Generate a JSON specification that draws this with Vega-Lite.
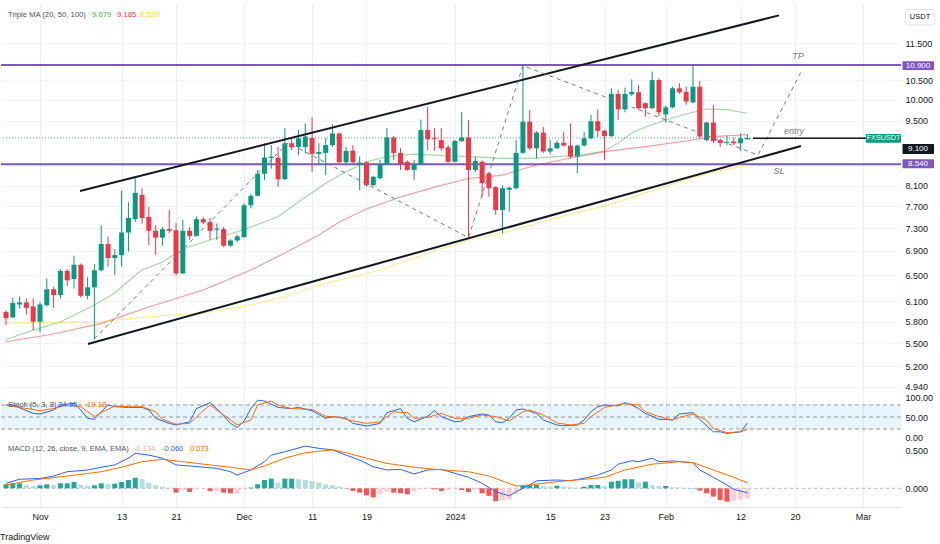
{
"$schema":"https://vega.github.io/schema/vega-lite/v6.json",
"padding":{"left":0,"top":3,"right":0,"bottom":0},
"bounds":"flush",
"spacing":2,
"background":"white",
"resolve":{"scale":{"color":"independent"}},
"title":{"text":"TradingView","orient":"bottom","anchor":"start","fontSize":9,"fontWeight":"normal","font":"Liberation Sans","color":"#131722","offset":12},
"config":{"view":{"stroke":null},"axis":{"labelFont":"Liberation Sans","labelFontSize":9,"labelColor":"#131722"},"text":{"font":"Liberation Sans"}},
"datasets":{
"candles":[
{"date":"2023-10-27","open":5.94,"high":5.96,"low":5.75,"close":5.85,"hist":0.053},
{"date":"2023-10-28","open":5.86,"high":6.15,"low":5.85,"close":6.07,"hist":0.066},
{"date":"2023-10-29","open":6.05,"high":6.17,"low":5.99,"close":6.08,"hist":0.066},
{"date":"2023-10-30","open":6.08,"high":6.14,"low":5.90,"close":6.00,"hist":0.04},
{"date":"2023-10-31","open":6.02,"high":6.14,"low":5.68,"close":5.80,"hist":0.03},
{"date":"2023-11-01","open":5.80,"high":6.09,"low":5.65,"close":6.05,"hist":0.04},
{"date":"2023-11-02","open":6.04,"high":6.45,"low":6.02,"close":6.28,"hist":0.053},
{"date":"2023-11-03","open":6.28,"high":6.32,"low":6.00,"close":6.19,"hist":0.044},
{"date":"2023-11-04","open":6.19,"high":6.60,"low":6.14,"close":6.57,"hist":0.066},
{"date":"2023-11-05","open":6.57,"high":6.60,"low":6.33,"close":6.42,"hist":0.066},
{"date":"2023-11-06","open":6.44,"high":6.82,"low":6.29,"close":6.67,"hist":0.084},
{"date":"2023-11-07","open":6.67,"high":6.69,"low":6.15,"close":6.18,"hist":0.044},
{"date":"2023-11-08","open":6.18,"high":6.47,"low":6.13,"close":6.31,"hist":0.031},
{"date":"2023-11-09","open":6.31,"high":6.68,"low":5.55,"close":6.58,"hist":0.04},
{"date":"2023-11-10","open":6.58,"high":7.35,"low":6.56,"close":7.02,"hist":0.066},
{"date":"2023-11-11","open":7.02,"high":7.15,"low":6.64,"close":6.78,"hist":0.062},
{"date":"2023-11-12","open":6.78,"high":6.93,"low":6.50,"close":6.83,"hist":0.062},
{"date":"2023-11-13","open":6.83,"high":8.00,"low":6.64,"close":7.22,"hist":0.084},
{"date":"2023-11-14","open":7.22,"high":7.78,"low":6.89,"close":7.48,"hist":0.11},
{"date":"2023-11-15","open":7.46,"high":8.25,"low":7.41,"close":7.96,"hist":0.14},
{"date":"2023-11-16","open":7.92,"high":8.05,"low":7.38,"close":7.48,"hist":0.12},
{"date":"2023-11-17","open":7.50,"high":7.69,"low":7.00,"close":7.25,"hist":0.075},
{"date":"2023-11-18","open":7.25,"high":7.35,"low":6.83,"close":7.13,"hist":0.04},
{"date":"2023-11-19","open":7.13,"high":7.32,"low":6.99,"close":7.28,"hist":0.022},
{"date":"2023-11-20","open":7.28,"high":7.63,"low":7.21,"close":7.25,"hist":0.009},
{"date":"2023-11-21","open":7.26,"high":7.39,"low":6.49,"close":6.53,"hist":-0.057},
{"date":"2023-11-22","open":6.53,"high":7.45,"low":6.52,"close":7.25,"hist":-0.022},
{"date":"2023-11-23","open":7.25,"high":7.32,"low":7.09,"close":7.16,"hist":-0.048},
{"date":"2023-11-24","open":7.16,"high":7.51,"low":7.15,"close":7.46,"hist":-0.013},
{"date":"2023-11-25","open":7.46,"high":7.50,"low":7.37,"close":7.40,"hist":-0.004},
{"date":"2023-11-26","open":7.41,"high":7.48,"low":7.09,"close":7.25,"hist":-0.035},
{"date":"2023-11-27","open":7.27,"high":7.38,"low":7.09,"close":7.29,"hist":-0.035},
{"date":"2023-11-28","open":7.28,"high":7.32,"low":6.97,"close":6.99,"hist":-0.057},
{"date":"2023-11-29","open":6.99,"high":7.10,"low":6.97,"close":7.08,"hist":-0.066},
{"date":"2023-11-30","open":7.08,"high":7.18,"low":7.05,"close":7.15,"hist":-0.066},
{"date":"2023-12-01","open":7.14,"high":7.76,"low":7.13,"close":7.72,"hist":-0.013},
{"date":"2023-12-02","open":7.72,"high":7.94,"low":7.66,"close":7.90,"hist":0.01},
{"date":"2023-12-03","open":7.90,"high":8.42,"low":7.89,"close":8.34,"hist":0.053},
{"date":"2023-12-04","open":8.34,"high":8.99,"low":8.21,"close":8.68,"hist":0.11},
{"date":"2023-12-05","open":8.67,"high":8.95,"low":8.45,"close":8.70,"hist":0.128},
{"date":"2023-12-06","open":8.68,"high":8.91,"low":8.08,"close":8.23,"hist":0.075},
{"date":"2023-12-07","open":8.23,"high":9.33,"low":8.22,"close":8.99,"hist":0.128},
{"date":"2023-12-08","open":8.99,"high":9.10,"low":8.84,"close":8.90,"hist":0.128},
{"date":"2023-12-09","open":8.91,"high":9.29,"low":8.73,"close":9.10,"hist":0.12},
{"date":"2023-12-10","open":8.91,"high":9.44,"low":8.77,"close":9.14,"hist":0.11},
{"date":"2023-12-11","open":9.11,"high":9.58,"low":8.38,"close":8.76,"hist":0.097},
{"date":"2023-12-12","open":8.76,"high":8.99,"low":8.52,"close":8.80,"hist":0.075},
{"date":"2023-12-13","open":8.78,"high":9.10,"low":8.31,"close":8.95,"hist":0.053},
{"date":"2023-12-14","open":8.95,"high":9.42,"low":8.91,"close":9.21,"hist":0.04},
{"date":"2023-12-15","open":9.21,"high":9.23,"low":8.56,"close":8.58,"hist":0.022},
{"date":"2023-12-16","open":8.58,"high":8.91,"low":8.52,"close":8.82,"hist":-0.004},
{"date":"2023-12-17","open":8.83,"high":8.95,"low":8.56,"close":8.58,"hist":-0.035},
{"date":"2023-12-18","open":8.53,"high":8.70,"low":8.01,"close":8.57,"hist":-0.057},
{"date":"2023-12-19","open":8.58,"high":8.60,"low":8.08,"close":8.11,"hist":-0.093},
{"date":"2023-12-20","open":8.11,"high":8.30,"low":8.09,"close":8.28,"hist":-0.12},
{"date":"2023-12-21","open":8.25,"high":8.63,"low":8.23,"close":8.54,"hist":-0.08},
{"date":"2023-12-22","open":8.54,"high":9.33,"low":8.52,"close":9.12,"hist":-0.035},
{"date":"2023-12-23","open":9.12,"high":9.15,"low":8.63,"close":8.78,"hist":-0.057},
{"date":"2023-12-24","open":8.78,"high":8.88,"low":8.42,"close":8.54,"hist":-0.066},
{"date":"2023-12-25","open":8.59,"high":8.62,"low":8.40,"close":8.42,"hist":-0.08},
{"date":"2023-12-26","open":8.42,"high":8.63,"low":8.21,"close":8.54,"hist":-0.035},
{"date":"2023-12-27","open":8.54,"high":9.53,"low":8.52,"close":9.29,"hist":-0.013},
{"date":"2023-12-28","open":9.29,"high":9.83,"low":8.84,"close":9.08,"hist":-0.004},
{"date":"2023-12-29","open":9.10,"high":9.33,"low":8.83,"close":9.08,"hist":-0.013},
{"date":"2023-12-30","open":9.06,"high":9.33,"low":8.83,"close":8.88,"hist":-0.035},
{"date":"2023-12-31","open":8.90,"high":8.95,"low":8.57,"close":8.59,"hist":-0.022},
{"date":"2024-01-01","open":8.59,"high":9.06,"low":8.58,"close":9.04,"hist":-0.004},
{"date":"2024-01-02","open":9.04,"high":9.71,"low":9.02,"close":9.12,"hist":-0.022},
{"date":"2024-01-03","open":9.12,"high":9.52,"low":7.12,"close":8.42,"hist":-0.048},
{"date":"2024-01-04","open":8.42,"high":8.70,"low":8.38,"close":8.61,"hist":-0.022},
{"date":"2024-01-05","open":8.59,"high":8.62,"low":7.88,"close":8.15,"hist":-0.066},
{"date":"2024-01-06","open":8.35,"high":8.38,"low":7.88,"close":8.05,"hist":-0.10},
{"date":"2024-01-07","open":8.07,"high":8.09,"low":7.54,"close":7.63,"hist":-0.17},
{"date":"2024-01-08","open":7.63,"high":8.11,"low":7.20,"close":8.05,"hist":-0.155},
{"date":"2024-01-09","open":8.02,"high":8.08,"low":7.60,"close":8.06,"hist":-0.146},
{"date":"2024-01-10","open":8.05,"high":9.06,"low":8.03,"close":8.78,"hist":-0.075},
{"date":"2024-01-11","open":8.78,"high":10.90,"low":8.76,"close":9.48,"hist":0.031},
{"date":"2024-01-12","open":9.48,"high":9.76,"low":8.84,"close":8.88,"hist":0.044},
{"date":"2024-01-13","open":8.88,"high":9.26,"low":8.66,"close":9.23,"hist":0.044},
{"date":"2024-01-14","open":9.23,"high":9.36,"low":8.78,"close":8.81,"hist":0.031},
{"date":"2024-01-15","open":8.81,"high":9.06,"low":8.75,"close":8.88,"hist":0.022},
{"date":"2024-01-16","open":8.88,"high":9.05,"low":8.86,"close":9.00,"hist":0.035},
{"date":"2024-01-17","open":9.00,"high":9.25,"low":8.92,"close":8.94,"hist":0.022},
{"date":"2024-01-18","open":8.94,"high":9.44,"low":8.66,"close":8.70,"hist":0.013},
{"date":"2024-01-19","open":8.70,"high":8.96,"low":8.35,"close":8.94,"hist":0.009},
{"date":"2024-01-20","open":8.94,"high":9.25,"low":8.92,"close":9.10,"hist":0.022},
{"date":"2024-01-21","open":9.10,"high":9.64,"low":9.08,"close":9.49,"hist":0.044},
{"date":"2024-01-22","open":9.49,"high":9.77,"low":9.13,"close":9.27,"hist":0.044},
{"date":"2024-01-23","open":9.27,"high":9.30,"low":8.63,"close":9.15,"hist":0.031},
{"date":"2024-01-24","open":9.15,"high":10.29,"low":9.13,"close":10.15,"hist":0.088},
{"date":"2024-01-25","open":10.15,"high":10.25,"low":9.52,"close":9.77,"hist":0.10},
{"date":"2024-01-26","open":9.77,"high":10.31,"low":9.70,"close":10.15,"hist":0.12},
{"date":"2024-01-27","open":10.14,"high":10.52,"low":10.10,"close":10.20,"hist":0.12},
{"date":"2024-01-28","open":10.19,"high":10.37,"low":9.76,"close":9.80,"hist":0.075},
{"date":"2024-01-29","open":9.92,"high":9.94,"low":9.60,"close":9.80,"hist":0.088},
{"date":"2024-01-30","open":9.80,"high":10.72,"low":9.78,"close":10.50,"hist":0.04},
{"date":"2024-01-31","open":10.50,"high":10.55,"low":9.62,"close":9.70,"hist":0.03},
{"date":"2024-02-01","open":9.65,"high":9.86,"low":9.46,"close":9.82,"hist":0.031},
{"date":"2024-02-02","open":9.82,"high":10.33,"low":9.80,"close":10.29,"hist":0.013},
{"date":"2024-02-03","open":10.29,"high":10.42,"low":10.15,"close":10.19,"hist":0.009},
{"date":"2024-02-04","open":10.20,"high":10.33,"low":9.88,"close":9.96,"hist":0.004},
{"date":"2024-02-05","open":9.94,"high":10.88,"low":9.92,"close":10.33,"hist":0.004},
{"date":"2024-02-06","open":10.33,"high":10.48,"low":9.10,"close":9.14,"hist":-0.03},
{"date":"2024-02-07","open":9.06,"high":9.48,"low":9.03,"close":9.46,"hist":-0.066},
{"date":"2024-02-08","open":9.46,"high":9.88,"low":9.00,"close":9.04,"hist":-0.11},
{"date":"2024-02-09","open":9.06,"high":9.09,"low":8.91,"close":9.00,"hist":-0.155},
{"date":"2024-02-10","open":9.00,"high":9.16,"low":8.95,"close":9.02,"hist":-0.177},
{"date":"2024-02-11","open":9.03,"high":9.12,"low":8.95,"close":8.99,"hist":-0.165},
{"date":"2024-02-12","open":8.99,"high":9.21,"low":8.83,"close":9.10,"hist":-0.15},
{"date":"2024-02-13","open":9.08,"high":9.19,"low":9.07,"close":9.11,"hist":-0.134}
],
"ma":[
{"date":"2023-10-27","s":"MA20","v":5.55},{"date":"2023-10-31","s":"MA20","v":5.68},{"date":"2023-11-04","s":"MA20","v":5.794},{"date":"2023-11-09","s":"MA20","v":6.041},{"date":"2023-11-12","s":"MA20","v":6.222},{"date":"2023-11-14","s":"MA20","v":6.408},{"date":"2023-11-16","s":"MA20","v":6.584},{"date":"2023-11-19","s":"MA20","v":6.715},{"date":"2023-11-22","s":"MA20","v":6.933},{"date":"2023-11-26","s":"MA20","v":7.088},{"date":"2023-11-30","s":"MA20","v":7.234},{"date":"2023-12-02","s":"MA20","v":7.318},{"date":"2023-12-06","s":"MA20","v":7.506},{"date":"2023-12-09","s":"MA20","v":7.782},{"date":"2023-12-13","s":"MA20","v":8.147},{"date":"2023-12-16","s":"MA20","v":8.383},{"date":"2023-12-19","s":"MA20","v":8.591},{"date":"2023-12-22","s":"MA20","v":8.701},{"date":"2023-12-26","s":"MA20","v":8.755},{"date":"2024-01-01","s":"MA20","v":8.712},{"date":"2024-01-05","s":"MA20","v":8.691},{"date":"2024-01-08","s":"MA20","v":8.663},{"date":"2024-01-12","s":"MA20","v":8.663},{"date":"2024-01-16","s":"MA20","v":8.701},{"date":"2024-01-20","s":"MA20","v":8.744},{"date":"2024-01-23","s":"MA20","v":8.82},{"date":"2024-01-25","s":"MA20","v":8.996},{"date":"2024-01-27","s":"MA20","v":9.219},{"date":"2024-01-29","s":"MA20","v":9.356},{"date":"2024-02-01","s":"MA20","v":9.518},{"date":"2024-02-04","s":"MA20","v":9.66},{"date":"2024-02-07","s":"MA20","v":9.779},{"date":"2024-02-10","s":"MA20","v":9.767},{"date":"2024-02-13","s":"MA20","v":9.679},
{"date":"2023-10-27","s":"MA50","v":5.52},{"date":"2023-11-03","s":"MA50","v":5.626},{"date":"2023-11-10","s":"MA50","v":5.776},{"date":"2023-11-17","s":"MA50","v":6.012},{"date":"2023-11-25","s":"MA50","v":6.268},{"date":"2023-12-02","s":"MA50","v":6.584},{"date":"2023-12-07","s":"MA50","v":6.865},{"date":"2023-12-12","s":"MA50","v":7.175},{"date":"2023-12-15","s":"MA50","v":7.408},{"date":"2023-12-19","s":"MA50","v":7.649},{"date":"2023-12-24","s":"MA50","v":7.878},{"date":"2023-12-29","s":"MA50","v":8.073},{"date":"2024-01-03","s":"MA50","v":8.244},{"date":"2024-01-08","s":"MA50","v":8.315},{"date":"2024-01-13","s":"MA50","v":8.522},{"date":"2024-01-18","s":"MA50","v":8.67},{"date":"2024-01-23","s":"MA50","v":8.809},{"date":"2024-01-29","s":"MA50","v":8.918},{"date":"2024-02-04","s":"MA50","v":9.04},{"date":"2024-02-08","s":"MA50","v":9.14},{"date":"2024-02-13","s":"MA50","v":9.185},
{"date":"2023-10-27","s":"MA100","v":5.78},{"date":"2023-11-10","s":"MA100","v":5.799},{"date":"2023-11-17","s":"MA100","v":5.87},{"date":"2023-11-25","s":"MA100","v":5.924},{"date":"2023-12-02","s":"MA100","v":6.041},{"date":"2023-12-07","s":"MA100","v":6.166},{"date":"2023-12-12","s":"MA100","v":6.346},{"date":"2023-12-21","s":"MA100","v":6.584},{"date":"2023-12-29","s":"MA100","v":6.899},{"date":"2024-01-03","s":"MA100","v":7.088},{"date":"2024-01-08","s":"MA100","v":7.211},{"date":"2024-01-17","s":"MA100","v":7.519},{"date":"2024-01-23","s":"MA100","v":7.705},{"date":"2024-01-29","s":"MA100","v":7.955},{"date":"2024-02-03","s":"MA100","v":8.174},{"date":"2024-02-08","s":"MA100","v":8.377},{"date":"2024-02-13","s":"MA100","v":8.52}
],
"stoch":[
{"date":"2023-10-27","s":"K","v":80},{"date":"2023-10-28","s":"K","v":80},{"date":"2023-10-31","s":"K","v":59},{"date":"2023-11-01","s":"K","v":57.5},{"date":"2023-11-03","s":"K","v":67.5},{"date":"2023-11-04","s":"K","v":80},{"date":"2023-11-06","s":"K","v":84},{"date":"2023-11-07","s":"K","v":67.5},{"date":"2023-11-08","s":"K","v":46.7},{"date":"2023-11-09","s":"K","v":44},{"date":"2023-11-10","s":"K","v":63},{"date":"2023-11-11","s":"K","v":80},{"date":"2023-11-12","s":"K","v":75.8},{"date":"2023-11-14","s":"K","v":74},{"date":"2023-11-16","s":"K","v":74},{"date":"2023-11-17","s":"K","v":67.5},{"date":"2023-11-18","s":"K","v":46.7},{"date":"2023-11-20","s":"K","v":34},{"date":"2023-11-21","s":"K","v":30},{"date":"2023-11-23","s":"K","v":38},{"date":"2023-11-24","s":"K","v":71},{"date":"2023-11-26","s":"K","v":85.8},{"date":"2023-11-27","s":"K","v":71},{"date":"2023-11-29","s":"K","v":34},{"date":"2023-11-30","s":"K","v":24},{"date":"2023-12-01","s":"K","v":40},{"date":"2023-12-02","s":"K","v":71},{"date":"2023-12-03","s":"K","v":92},{"date":"2023-12-04","s":"K","v":90},{"date":"2023-12-06","s":"K","v":74},{"date":"2023-12-08","s":"K","v":71},{"date":"2023-12-09","s":"K","v":74},{"date":"2023-12-11","s":"K","v":65.8},{"date":"2023-12-13","s":"K","v":46.7},{"date":"2023-12-14","s":"K","v":51},{"date":"2023-12-16","s":"K","v":46.7},{"date":"2023-12-17","s":"K","v":34},{"date":"2023-12-19","s":"K","v":27.5},{"date":"2023-12-21","s":"K","v":34},{"date":"2023-12-22","s":"K","v":60.8},{"date":"2023-12-24","s":"K","v":71},{"date":"2023-12-25","s":"K","v":46.7},{"date":"2023-12-26","s":"K","v":38},{"date":"2023-12-28","s":"K","v":52},{"date":"2023-12-29","s":"K","v":65.8},{"date":"2023-12-30","s":"K","v":51},{"date":"2024-01-01","s":"K","v":38},{"date":"2024-01-02","s":"K","v":40},{"date":"2024-01-03","s":"K","v":51},{"date":"2024-01-05","s":"K","v":57.5},{"date":"2024-01-06","s":"K","v":55},{"date":"2024-01-07","s":"K","v":38},{"date":"2024-01-08","s":"K","v":36},{"date":"2024-01-09","s":"K","v":46.7},{"date":"2024-01-10","s":"K","v":67.5},{"date":"2024-01-11","s":"K","v":70},{"date":"2024-01-13","s":"K","v":59},{"date":"2024-01-14","s":"K","v":42.5},{"date":"2024-01-16","s":"K","v":30},{"date":"2024-01-17","s":"K","v":28},{"date":"2024-01-19","s":"K","v":30},{"date":"2024-01-20","s":"K","v":42.5},{"date":"2024-01-21","s":"K","v":63},{"date":"2024-01-22","s":"K","v":75.8},{"date":"2024-01-23","s":"K","v":80},{"date":"2024-01-25","s":"K","v":78},{"date":"2024-01-26","s":"K","v":85.8},{"date":"2024-01-27","s":"K","v":80},{"date":"2024-01-28","s":"K","v":71},{"date":"2024-01-29","s":"K","v":59},{"date":"2024-01-31","s":"K","v":44},{"date":"2024-02-01","s":"K","v":44},{"date":"2024-02-02","s":"K","v":42.5},{"date":"2024-02-03","s":"K","v":57.5},{"date":"2024-02-05","s":"K","v":61},{"date":"2024-02-06","s":"K","v":44},{"date":"2024-02-08","s":"K","v":13},{"date":"2024-02-09","s":"K","v":13},{"date":"2024-02-10","s":"K","v":9},{"date":"2024-02-12","s":"K","v":13},{"date":"2024-02-13","s":"K","v":34.95},
{"date":"2023-10-27","s":"D","v":80},{"date":"2023-10-29","s":"D","v":74},{"date":"2023-11-01","s":"D","v":66},{"date":"2023-11-03","s":"D","v":71},{"date":"2023-11-05","s":"D","v":80},{"date":"2023-11-07","s":"D","v":75.8},{"date":"2023-11-09","s":"D","v":51},{"date":"2023-11-10","s":"D","v":61},{"date":"2023-11-12","s":"D","v":77.5},{"date":"2023-11-14","s":"D","v":75.8},{"date":"2023-11-16","s":"D","v":75.8},{"date":"2023-11-18","s":"D","v":63},{"date":"2023-11-19","s":"D","v":44},{"date":"2023-11-21","s":"D","v":32},{"date":"2023-11-23","s":"D","v":34},{"date":"2023-11-25","s":"D","v":65.8},{"date":"2023-11-26","s":"D","v":80},{"date":"2023-11-28","s":"D","v":55},{"date":"2023-11-30","s":"D","v":30},{"date":"2023-12-02","s":"D","v":42.5},{"date":"2023-12-03","s":"D","v":80},{"date":"2023-12-05","s":"D","v":90},{"date":"2023-12-06","s":"D","v":80},{"date":"2023-12-08","s":"D","v":71},{"date":"2023-12-11","s":"D","v":69},{"date":"2023-12-13","s":"D","v":52},{"date":"2023-12-15","s":"D","v":49},{"date":"2023-12-17","s":"D","v":40},{"date":"2023-12-19","s":"D","v":34},{"date":"2023-12-21","s":"D","v":38},{"date":"2023-12-23","s":"D","v":63},{"date":"2023-12-25","s":"D","v":61},{"date":"2023-12-26","s":"D","v":46.7},{"date":"2023-12-28","s":"D","v":49},{"date":"2023-12-30","s":"D","v":59},{"date":"2024-01-01","s":"D","v":46.7},{"date":"2024-01-03","s":"D","v":46.7},{"date":"2024-01-05","s":"D","v":55},{"date":"2024-01-07","s":"D","v":51},{"date":"2024-01-09","s":"D","v":40},{"date":"2024-01-11","s":"D","v":63},{"date":"2024-01-12","s":"D","v":67.5},{"date":"2024-01-14","s":"D","v":55},{"date":"2024-01-16","s":"D","v":35},{"date":"2024-01-18","s":"D","v":30},{"date":"2024-01-20","s":"D","v":34},{"date":"2024-01-21","s":"D","v":51},{"date":"2024-01-23","s":"D","v":74},{"date":"2024-01-24","s":"D","v":77.5},{"date":"2024-01-26","s":"D","v":84},{"date":"2024-01-28","s":"D","v":80},{"date":"2024-01-29","s":"D","v":63},{"date":"2024-01-31","s":"D","v":51},{"date":"2024-02-02","s":"D","v":42.5},{"date":"2024-02-03","s":"D","v":49},{"date":"2024-02-05","s":"D","v":57.5},{"date":"2024-02-07","s":"D","v":42.5},{"date":"2024-02-08","s":"D","v":21},{"date":"2024-02-10","s":"D","v":11},{"date":"2024-02-12","s":"D","v":13},{"date":"2024-02-13","s":"D","v":19.18}
],
"macd":[
{"date":"2023-10-27","s":"MACD","v":0.066},{"date":"2023-10-29","s":"MACD","v":0.12},{"date":"2023-11-01","s":"MACD","v":0.13},{"date":"2023-11-03","s":"MACD","v":0.163},{"date":"2023-11-05","s":"MACD","v":0.22},{"date":"2023-11-08","s":"MACD","v":0.243},{"date":"2023-11-10","s":"MACD","v":0.28},{"date":"2023-11-12","s":"MACD","v":0.31},{"date":"2023-11-14","s":"MACD","v":0.40},{"date":"2023-11-15","s":"MACD","v":0.464},{"date":"2023-11-17","s":"MACD","v":0.44},{"date":"2023-11-19","s":"MACD","v":0.40},{"date":"2023-11-21","s":"MACD","v":0.31},{"date":"2023-11-23","s":"MACD","v":0.296},{"date":"2023-11-25","s":"MACD","v":0.28},{"date":"2023-11-27","s":"MACD","v":0.265},{"date":"2023-11-29","s":"MACD","v":0.22},{"date":"2023-11-30","s":"MACD","v":0.176},{"date":"2023-12-02","s":"MACD","v":0.243},{"date":"2023-12-04","s":"MACD","v":0.353},{"date":"2023-12-05","s":"MACD","v":0.44},{"date":"2023-12-07","s":"MACD","v":0.485},{"date":"2023-12-10","s":"MACD","v":0.56},{"date":"2023-12-12","s":"MACD","v":0.53},{"date":"2023-12-14","s":"MACD","v":0.51},{"date":"2023-12-16","s":"MACD","v":0.44},{"date":"2023-12-18","s":"MACD","v":0.375},{"date":"2023-12-20","s":"MACD","v":0.286},{"date":"2023-12-22","s":"MACD","v":0.243},{"date":"2023-12-24","s":"MACD","v":0.252},{"date":"2023-12-26","s":"MACD","v":0.19},{"date":"2023-12-28","s":"MACD","v":0.243},{"date":"2023-12-30","s":"MACD","v":0.252},{"date":"2024-01-01","s":"MACD","v":0.199},{"date":"2024-01-03","s":"MACD","v":0.146},{"date":"2024-01-05","s":"MACD","v":0.066},{"date":"2024-01-07","s":"MACD","v":-0.045},{"date":"2024-01-09","s":"MACD","v":-0.10},{"date":"2024-01-10","s":"MACD","v":-0.045},{"date":"2024-01-12","s":"MACD","v":0.044},{"date":"2024-01-13","s":"MACD","v":0.10},{"date":"2024-01-16","s":"MACD","v":0.11},{"date":"2024-01-18","s":"MACD","v":0.10},{"date":"2024-01-20","s":"MACD","v":0.133},{"date":"2024-01-22","s":"MACD","v":0.176},{"date":"2024-01-24","s":"MACD","v":0.243},{"date":"2024-01-25","s":"MACD","v":0.32},{"date":"2024-01-27","s":"MACD","v":0.366},{"date":"2024-01-28","s":"MACD","v":0.353},{"date":"2024-01-30","s":"MACD","v":0.40},{"date":"2024-01-31","s":"MACD","v":0.353},{"date":"2024-02-02","s":"MACD","v":0.362},{"date":"2024-02-05","s":"MACD","v":0.34},{"date":"2024-02-06","s":"MACD","v":0.243},{"date":"2024-02-08","s":"MACD","v":0.146},{"date":"2024-02-10","s":"MACD","v":0.044},{"date":"2024-02-11","s":"MACD","v":-0.013},{"date":"2024-02-13","s":"MACD","v":-0.06},
{"date":"2023-10-27","s":"Signal","v":0.044},{"date":"2023-10-31","s":"Signal","v":0.11},{"date":"2023-11-05","s":"Signal","v":0.163},{"date":"2023-11-10","s":"Signal","v":0.22},{"date":"2023-11-13","s":"Signal","v":0.28},{"date":"2023-11-16","s":"Signal","v":0.353},{"date":"2023-11-19","s":"Signal","v":0.385},{"date":"2023-11-22","s":"Signal","v":0.353},{"date":"2023-11-25","s":"Signal","v":0.32},{"date":"2023-11-29","s":"Signal","v":0.28},{"date":"2023-12-02","s":"Signal","v":0.243},{"date":"2023-12-04","s":"Signal","v":0.296},{"date":"2023-12-07","s":"Signal","v":0.40},{"date":"2023-12-10","s":"Signal","v":0.472},{"date":"2023-12-14","s":"Signal","v":0.51},{"date":"2023-12-16","s":"Signal","v":0.472},{"date":"2023-12-19","s":"Signal","v":0.40},{"date":"2023-12-22","s":"Signal","v":0.33},{"date":"2023-12-26","s":"Signal","v":0.28},{"date":"2023-12-29","s":"Signal","v":0.252},{"date":"2024-01-01","s":"Signal","v":0.233},{"date":"2024-01-03","s":"Signal","v":0.22},{"date":"2024-01-06","s":"Signal","v":0.163},{"date":"2024-01-10","s":"Signal","v":0.03},{"date":"2024-01-12","s":"Signal","v":0.044},{"date":"2024-01-16","s":"Signal","v":0.088},{"date":"2024-01-20","s":"Signal","v":0.12},{"date":"2024-01-23","s":"Signal","v":0.146},{"date":"2024-01-26","s":"Signal","v":0.243},{"date":"2024-01-30","s":"Signal","v":0.32},{"date":"2024-02-03","s":"Signal","v":0.353},{"date":"2024-02-05","s":"Signal","v":0.34},{"date":"2024-02-08","s":"Signal","v":0.243},{"date":"2024-02-11","s":"Signal","v":0.146},{"date":"2024-02-13","s":"Signal","v":0.073}
]
},
"vconcat":[
{
"width":900,"height":392,
"resolve":{"axis":{"x":"independent","y":"independent"}},
"layer":[
{"data":{"values":[{"p":10.9},{"p":8.54}]},"mark":{"type":"rule","color":"#7e57c2","strokeWidth":2},"encoding":{"y":{"field":"p","type":"quantitative","axis":null}}},
{"data":{"values":[{"p":9.11}]},"mark":{"type":"rule","color":"#089981","strokeDash":[1,2],"opacity":0.7},"encoding":{"y":{"field":"p","type":"quantitative","axis":null}}},
{"data":{"name":"ma"},"mark":{"type":"line","strokeWidth":1.2,"opacity":0.5},"encoding":{"x":{"field":"date","type":"temporal","axis":null},"y":{"field":"v","type":"quantitative","axis":null},"color":{"field":"s","type":"nominal","legend":null,"scale":{"domain":["MA20","MA50","MA100","label"],"range":["#4caf50","#f23645","#f5dd1e","#50535e"]}}}},
{"data":{"name":"candles"},"mark":{"type":"rule","strokeWidth":1},
"encoding":{
"x":{"field":"date","type":"temporal","scale":{"type":"utc","padding":0,"domain":[{"year":2023,"month":10,"date":26,"hours":6,"minutes":23,"utc":true},{"year":2024,"month":3,"date":6,"hours":14,"minutes":2,"utc":true}]},
"axis":{"orient":"bottom","values":[{"year":2023,"month":11,"date":1,"utc":true},{"year":2023,"month":11,"date":13,"utc":true},{"year":2023,"month":11,"date":21,"utc":true},{"year":2023,"month":12,"date":1,"utc":true},{"year":2023,"month":12,"date":11,"utc":true},{"year":2023,"month":12,"date":19,"utc":true},{"year":2024,"month":1,"date":1,"utc":true},{"year":2024,"month":1,"date":15,"utc":true},{"year":2024,"month":1,"date":23,"utc":true},{"year":2024,"month":2,"date":1,"utc":true},{"year":2024,"month":2,"date":12,"utc":true},{"year":2024,"month":2,"date":20,"utc":true},{"year":2024,"month":3,"date":1,"utc":true}],"labels":false,"ticks":false,"tickSize":0,"domain":false,"grid":true,"gridColor":"#eceff5","title":null}},
"y":{"field":"low","type":"quantitative","scale":{"type":"log","domain":[4.843,12.69],"nice":false,"zero":false},
"axis":{"orient":"right","values":[4.94,5.2,5.5,5.8,6.1,6.5,6.9,7.3,7.7,8.1,9.5,10,10.5,11.5],"format":".3f","grid":true,"gridColor":"#f0f3fa","ticks":false,"tickSize":0,"domain":false,"labelPadding":4,"title":null}},
"y2":{"field":"high"},
"color":{"condition":{"test":"datum.close >= datum.open","value":"#089981"},"value":"#f23645"}}},
{"data":{"name":"candles"},"mark":{"type":"bar","size":5},"encoding":{"x":{"field":"date","type":"temporal","axis":null},"y":{"field":"open","type":"quantitative","axis":null},"y2":{"field":"close"},"color":{"condition":{"test":"datum.close >= datum.open","value":"#089981"},"value":"#f23645"}}},
{"data":{"values":[{"d":"2023-11-06T21:07:00Z","p":7.994,"g":"u"},{"d":"2024-02-17T15:36:00Z","p":12.31,"g":"u"},{"d":"2023-11-08T01:22:00Z","p":5.49,"g":"l"},{"d":"2024-02-20T21:07:00Z","p":8.929,"g":"l"}]},"mark":{"type":"line","color":"#131722","strokeWidth":2},"encoding":{"x":{"field":"d","type":"temporal","axis":null},"y":{"field":"p","type":"quantitative","axis":null},"detail":{"field":"g"}}},
{"data":{"values":[{"d":"2023-11-09T00:00:00Z","p":5.56},{"d":"2023-12-07T11:00:00Z","p":9.0},{"d":"2024-01-03T00:00:00Z","p":7.13},{"d":"2024-01-11T00:00:00Z","p":10.88},{"d":"2024-02-14T13:26:00Z","p":8.734},{"d":"2024-02-20T21:07:00Z","p":10.71}]},"mark":{"type":"line","color":"#787b86","strokeWidth":1,"strokeDash":[4,4]},"encoding":{"x":{"field":"d","type":"temporal","axis":null},"y":{"field":"p","type":"quantitative","axis":null}}},
{"data":{"values":[{"d1":"2024-02-13T19:55:00Z","d2":"2024-03-06T14:02:00Z","p":9.1}]},"mark":{"type":"rule","color":"#131722","strokeWidth":1.5},"encoding":{"x":{"field":"d1","type":"temporal","axis":null},"x2":{"field":"d2"},"y":{"field":"p","type":"quantitative","axis":null}}},
{"data":{"values":[{"d":"2024-02-20T10:34:00Z","p":11.14,"t":"TP"},{"d":"2024-02-19T20:24:00Z","p":9.26,"t":"entry"},{"d":"2024-02-17T15:36:00Z","p":8.40,"t":"SL"}]},"mark":{"type":"text","fontStyle":"italic","fontSize":9,"color":"#787b86","align":"center","baseline":"middle"},"encoding":{"x":{"field":"d","type":"temporal","axis":null},"y":{"field":"p","type":"quantitative","axis":null},"text":{"field":"t"}}},
{"data":{"values":[{"d1":"2024-03-06T19:21:00Z","d2":"2024-03-11T10:34:00Z","p1":11.0,"p2":10.762},{"d1":"2024-03-06T19:21:00Z","d2":"2024-03-11T10:34:00Z","p1":8.642,"p2":8.453}]},"mark":{"type":"rect","color":"#7e57c2","cornerRadius":1},"encoding":{"x":{"field":"d1","type":"temporal","axis":null},"x2":{"field":"d2"},"y":{"field":"p1","type":"quantitative","axis":null},"y2":{"field":"p2"}}},
{"data":{"values":[{"d1":"2024-03-06T19:21:00Z","d2":"2024-03-11T10:34:00Z","p1":8.973,"p2":8.755}]},"mark":{"type":"rect","color":"#131722","cornerRadius":1},"encoding":{"x":{"field":"d1","type":"temporal","axis":null},"x2":{"field":"d2"},"y":{"field":"p1","type":"quantitative","axis":null},"y2":{"field":"p2"}}},
{"data":{"values":[{"d1":"2024-03-01T10:33:00Z","d2":"2024-03-06T14:02:00Z","p1":9.195,"p2":9.002}]},"mark":{"type":"rect","color":"#089981","cornerRadius":1},"encoding":{"x":{"field":"d1","type":"temporal","axis":null},"x2":{"field":"d2"},"y":{"field":"p1","type":"quantitative","axis":null},"y2":{"field":"p2"}}},
{"data":{"values":[{"d":"2024-03-09T02:02:00Z","p":10.881,"t":"10.900"},{"d":"2024-03-09T02:02:00Z","p":8.548,"t":"8.540"},{"d":"2024-03-09T02:02:00Z","p":8.863,"t":"9.100"}]},"mark":{"type":"text","color":"white","fontSize":8,"align":"center","baseline":"middle"},"encoding":{"x":{"field":"d","type":"temporal","axis":null},"y":{"field":"p","type":"quantitative","axis":null},"text":{"field":"t"}}},
{"data":{"values":[{"d":"2024-03-04T00:15:00Z","p":9.098,"t":"FXSUSDT"}]},"mark":{"type":"text","color":"white","fontSize":7.2,"align":"center","baseline":"middle"},"encoding":{"x":{"field":"d","type":"temporal","axis":null},"y":{"field":"p","type":"quantitative","axis":null},"text":{"field":"t"}}},
{"data":{"values":[{"d1":"2024-03-07T04:20:00Z","d2":"2024-03-11T13:55:00Z","p1":12.49,"p2":12.02}]},"mark":{"type":"rect","fill":"white","stroke":"#e0e3eb","strokeWidth":1,"cornerRadius":3},"encoding":{"x":{"field":"d1","type":"temporal","axis":null},"x2":{"field":"d2"},"y":{"field":"p1","type":"quantitative","axis":null},"y2":{"field":"p2"}}},
{"data":{"values":[{"d":"2024-03-09T09:07:00Z","p":12.25,"t":"USDT"}]},"mark":{"type":"text","color":"#131722","fontSize":7.5,"align":"center","baseline":"middle"},"encoding":{"x":{"field":"d","type":"temporal","axis":null},"y":{"field":"p","type":"quantitative","axis":null},"text":{"field":"t"}}},
{"data":{"values":[{"d":"2023-10-27T07:05:00Z","p":12.32,"t":"Triple MA (20, 50, 100)","s":"label"},{"d":"2023-11-08T15:29:00Z","p":12.32,"t":"9.679","s":"MA20"},{"d":"2023-11-12T07:41:00Z","p":12.32,"t":"9.185","s":"MA50"},{"d":"2023-11-15T16:48:00Z","p":12.32,"t":"8.520","s":"MA100"}]},"mark":{"type":"text","fontSize":7.7,"align":"left","baseline":"middle"},"encoding":{"x":{"field":"d","type":"temporal","axis":null},"y":{"field":"p","type":"quantitative","axis":null},"text":{"field":"t"},"color":{"field":"s","type":"nominal","legend":null,"scale":{"domain":["MA20","MA50","MA100","label"],"range":["#4caf50","#f23645","#f5dd1e","#50535e"]}}}}
]
},
{
"width":900,"height":40,
"resolve":{"axis":{"x":"independent","y":"independent"}},
"layer":[
{"data":{"values":[{"a":20,"b":80}]},"mark":{"type":"rect","color":"#2196f3","opacity":0.1},"encoding":{"y":{"field":"a","type":"quantitative","axis":null},"y2":{"field":"b"}}},
{"data":{"values":[{"l":80},{"l":50},{"l":20}]},"mark":{"type":"rule","color":"#9598a1","strokeDash":[4,3],"strokeWidth":1},"encoding":{"y":{"field":"l","type":"quantitative","axis":null}}},
{"data":{"name":"stoch"},"mark":{"type":"line","strokeWidth":1},
"encoding":{
"x":{"field":"date","type":"temporal","scale":{"type":"utc","padding":0,"domain":[{"year":2023,"month":10,"date":26,"hours":6,"minutes":23,"utc":true},{"year":2024,"month":3,"date":6,"hours":14,"minutes":2,"utc":true}]},
"axis":{"orient":"bottom","values":[{"year":2023,"month":11,"date":1,"utc":true},{"year":2023,"month":11,"date":13,"utc":true},{"year":2023,"month":11,"date":21,"utc":true},{"year":2023,"month":12,"date":1,"utc":true},{"year":2023,"month":12,"date":11,"utc":true},{"year":2023,"month":12,"date":19,"utc":true},{"year":2024,"month":1,"date":1,"utc":true},{"year":2024,"month":1,"date":15,"utc":true},{"year":2024,"month":1,"date":23,"utc":true},{"year":2024,"month":2,"date":1,"utc":true},{"year":2024,"month":2,"date":12,"utc":true},{"year":2024,"month":2,"date":20,"utc":true},{"year":2024,"month":3,"date":1,"utc":true}],"labels":false,"ticks":false,"tickSize":0,"domain":false,"grid":true,"gridColor":"#eceff5","title":null}},
"y":{"field":"v","type":"quantitative","scale":{"domain":[0,100],"nice":false},"axis":{"orient":"right","values":[0,50,100],"format":".2f","grid":false,"ticks":false,"tickSize":0,"domain":false,"labelPadding":4,"title":null}},
"color":{"field":"s","type":"nominal","legend":null,"scale":{"domain":["K","D","label"],"range":["#2962ff","#ff6d00","#50535e"]}}}},
{"data":{"values":[{"d":"2023-10-27T07:05:00Z","v":80,"t":"Stoch (5, 3, 3)","s":"label"},{"d":"2023-11-03T15:30:00Z","v":80,"t":"34.95","s":"K"},{"d":"2023-11-07T21:50:00Z","v":80,"t":"19.18","s":"D"}]},"mark":{"type":"text","fontSize":7.7,"align":"left","baseline":"middle"},"encoding":{"x":{"field":"d","type":"temporal","axis":null},"y":{"field":"v","type":"quantitative","axis":null},"text":{"field":"t"},"color":{"field":"s","type":"nominal","legend":null,"scale":{"domain":["K","D","label"],"range":["#2962ff","#ff6d00","#50535e"]}}}}
]
},
{
"width":900,"height":68,
"resolve":{"axis":{"x":"independent","y":"independent"}},
"layer":[
{"data":{"values":[{"z":0}]},"mark":{"type":"rule","color":"#b2b5be","strokeDash":[3,3],"strokeWidth":1},"encoding":{"y":{"field":"z","type":"quantitative","axis":null}}},
{"data":{"name":"candles"},"transform":[{"window":[{"op":"lag","field":"hist","as":"prev"}],"sort":[{"field":"date"}]}],"mark":{"type":"bar","size":5},
"encoding":{"x":{"field":"date","type":"temporal","axis":null},"y":{"field":"hist","type":"quantitative","axis":null},"y2":{"datum":0},
"color":{"condition":[{"test":"datum.hist >= 0 && (datum.prev == null || datum.hist >= datum.prev)","value":"#26a69a"},{"test":"datum.hist >= 0","value":"#b2dfdb"},{"test":"datum.hist < datum.prev","value":"#ff5252"}],"value":"#ffcdd2"}}},
{"data":{"name":"macd"},"mark":{"type":"line","strokeWidth":1},
"encoding":{
"x":{"field":"date","type":"temporal","scale":{"type":"utc","padding":0,"domain":[{"year":2023,"month":10,"date":26,"hours":6,"minutes":23,"utc":true},{"year":2024,"month":3,"date":6,"hours":14,"minutes":2,"utc":true}]},
"axis":{"orient":"bottom","values":[{"year":2023,"month":11,"date":1,"utc":true},{"year":2023,"month":11,"date":13,"utc":true},{"year":2023,"month":11,"date":21,"utc":true},{"year":2023,"month":12,"date":1,"utc":true},{"year":2023,"month":12,"date":11,"utc":true},{"year":2023,"month":12,"date":19,"utc":true},{"year":2024,"month":1,"date":1,"utc":true},{"year":2024,"month":1,"date":15,"utc":true},{"year":2024,"month":1,"date":23,"utc":true},{"year":2024,"month":2,"date":1,"utc":true},{"year":2024,"month":2,"date":12,"utc":true},{"year":2024,"month":2,"date":20,"utc":true},{"year":2024,"month":3,"date":1,"utc":true}],
"labelExpr":"utcdate(datum.value) == 1 ? (utcmonth(datum.value) == 0 ? utcFormat(datum.value, '%Y') : utcFormat(datum.value, '%b')) : utcFormat(datum.value, '%-d')",
"ticks":false,"tickSize":0,"domain":true,"domainColor":"#e0e3eb","grid":true,"gridColor":"#eceff5","labelPadding":5,"title":null}},
"y":{"field":"v","type":"quantitative","scale":{"domain":[-0.248,0.654],"nice":false,"zero":false},"axis":{"orient":"right","values":[0,0.5],"format":".3f","grid":false,"ticks":false,"tickSize":0,"domain":false,"labelPadding":4,"title":null}},
"color":{"field":"s","type":"nominal","legend":null,"scale":{"domain":["MACD","Signal","Hist","label"],"range":["#2962ff","#ff6d00","#f7a8b4","#50535e"]}}}},
{"data":{"values":[{"d":"2023-10-27T07:05:00Z","v":0.521,"t":"MACD (12, 26, close, 9, EMA, EMA)","s":"label"},{"d":"2023-11-14T19:41:00Z","v":0.521,"t":"-0.134","s":"Hist"},{"d":"2023-11-18T22:33:00Z","v":0.521,"t":"-0.060","s":"MACD"},{"d":"2023-11-23T01:12:00Z","v":0.521,"t":"0.073","s":"Signal"}]},"mark":{"type":"text","fontSize":7.5,"align":"left","baseline":"middle"},"encoding":{"x":{"field":"d","type":"temporal","axis":null},"y":{"field":"v","type":"quantitative","axis":null},"text":{"field":"t"},"color":{"field":"s","type":"nominal","legend":null,"scale":{"domain":["MACD","Signal","Hist","label"],"range":["#2962ff","#ff6d00","#f7a8b4","#50535e"]}}}}
]
}
]
}
